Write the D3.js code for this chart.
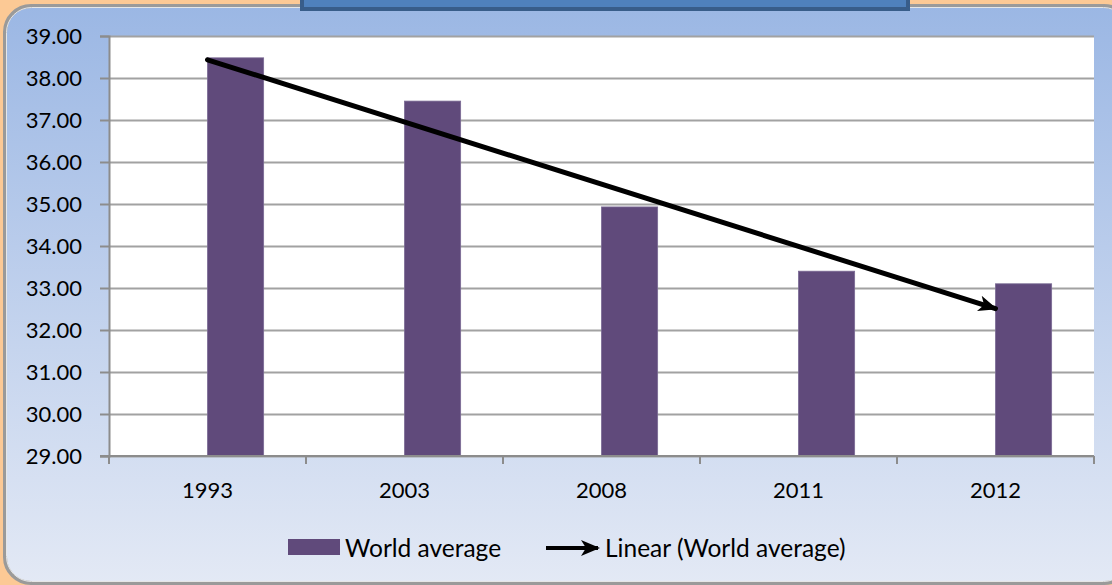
<!DOCTYPE html>
<html>
<head>
<meta charset="utf-8">
<script src="https://cdn.jsdelivr.net/npm/d3@7"></script>
<style>
  html, body { margin: 0; padding: 0; background: #fcc995; }
  svg { display: block; }
  text { font-family: Lato, "Open Sans", sans-serif; fill: #000; }
</style>
</head>
<body>
<div id="chart"></div>
<script>
// chart values
var years = ["1993", "2003", "2008", "2011", "2012"];
var worldAverage = [38.48, 37.45, 34.93, 33.40, 33.10];
var yTicks = [29, 30, 31, 32, 33, 34, 35, 36, 37, 38, 39];
var legendLabels = ["World average", "Linear (World average)"];

var width = 1112, height = 585;
var plot = { left: 109, right: 1094, top: 36, bottom: 456 };

var svg = d3.select("#chart").append("svg")
  .attr("width", width)
  .attr("height", height);

var defs = svg.append("defs");
var grad = defs.append("linearGradient")
  .attr("id", "bg").attr("x1", 0).attr("y1", 0).attr("x2", 0).attr("y2", 1);
grad.append("stop").attr("offset", "0%").attr("stop-color", "#9bb7e4");
grad.append("stop").attr("offset", "100%").attr("stop-color", "#e3e9f5");

// arrow head for the trend line
defs.append("marker")
  .attr("id", "arrow")
  .attr("markerUnits", "userSpaceOnUse")
  .attr("viewBox", "0 -9 19 18")
  .attr("refX", 17).attr("refY", 0)
  .attr("markerWidth", 19).attr("markerHeight", 18)
  .attr("orient", "auto")
  .append("path")
  .attr("d", "M0,-8L19,0L0,8L5,0Z")
  .attr("fill", "#000");

// rounded chart frame (double line)
svg.append("rect")
  .attr("x", 5).attr("y", 6)
  .attr("width", 1125).attr("height", 577)
  .attr("rx", 26).attr("ry", 26)
  .attr("fill", "url(#bg)")
  .attr("stroke", "#9a9a9a")
  .attr("stroke-width", 4);
svg.append("rect")
  .attr("x", 6.5).attr("y", 7.5)
  .attr("width", 1122).attr("height", 574)
  .attr("rx", 25).attr("ry", 25)
  .attr("fill", "none")
  .attr("stroke", "#e6e6e6")
  .attr("stroke-width", 1);

// title box at the top
svg.append("rect")
  .attr("x", 302).attr("y", -10)
  .attr("width", 606).attr("height", 19)
  .attr("fill", "#4f81bd")
  .attr("stroke", "#385d8a")
  .attr("stroke-width", 4);

// scales
var x = d3.scaleBand()
  .domain(years)
  .range([plot.left, plot.right]);

var y = d3.scaleLinear()
  .domain([29, 39])
  .range([plot.bottom, plot.top]);

// plot area
svg.append("rect")
  .attr("x", plot.left).attr("y", plot.top)
  .attr("width", plot.right - plot.left)
  .attr("height", plot.bottom - plot.top)
  .attr("fill", "#fff");

// gridlines
svg.append("g")
  .attr("transform", "translate(" + plot.left + ",0)")
  .call(d3.axisLeft(y).tickValues(yTicks).tickSize(-(plot.right - plot.left)).tickFormat(""))
  .call(function (g) {
    g.select(".domain").remove();
    g.selectAll("line").attr("stroke", "#a2a2a2").attr("stroke-width", 2);
  });

// bars (series sits right of category centre, like the Excel original)
var barW = x.bandwidth() * 0.285;
svg.append("g")
  .selectAll("rect")
  .data(worldAverage)
  .enter()
  .append("rect")
  .attr("x", function (d, i) { return x(years[i]) + x.bandwidth() / 2; })
  .attr("y", function (d) { return y(d); })
  .attr("width", barW)
  .attr("height", function (d) { return y(29) - y(d); })
  .attr("fill", "#604a7b")
  .attr("stroke", "#7a6a94")
  .attr("stroke-width", 0.8);

// y axis
svg.append("g")
  .attr("transform", "translate(" + plot.left + ",0)")
  .call(d3.axisLeft(y).tickValues(yTicks).tickSize(9).tickPadding(18).tickFormat(d3.format(".2f")))
  .call(function (g) {
    g.select(".domain").attr("stroke", "#8c8c8c").attr("stroke-width", 2);
    g.selectAll("line").attr("stroke", "#8c8c8c").attr("stroke-width", 2);
    g.selectAll("text").attr("font-size", 22).attr("dy", "0.36em")
      .style("font-family", "Lato, 'Open Sans', sans-serif");
  });

// x axis: labels at category centres, ticks on category boundaries
var xAxis = svg.append("g")
  .attr("transform", "translate(0," + plot.bottom + ")")
  .call(d3.axisBottom(x).tickSize(0).tickPadding(26).tickSizeOuter(0))
  .call(function (g) {
    g.select(".domain").attr("stroke", "#8c8c8c").attr("stroke-width", 2)
      .attr("d", "M" + (plot.left - 9) + ",0H" + plot.right);
    g.selectAll("text").attr("font-size", 22).attr("dy", "0.71em")
      .style("font-family", "Lato, 'Open Sans', sans-serif");
  });
xAxis.selectAll(".bound")
  .data(years.concat(["end"]))
  .enter()
  .append("line")
  .attr("class", "bound")
  .attr("x1", function (d, i) { return plot.left + i * x.step(); })
  .attr("x2", function (d, i) { return plot.left + i * x.step(); })
  .attr("y1", 0).attr("y2", 8)
  .attr("stroke", "#8c8c8c").attr("stroke-width", 2);

// linear trendline (least squares over category index)
var n = worldAverage.length;
var idx = d3.range(1, n + 1);
var mx = d3.mean(idx), my = d3.mean(worldAverage);
var slope = d3.sum(idx, function (k, i) { return (k - mx) * (worldAverage[i] - my); }) /
            d3.sum(idx, function (k) { return (k - mx) * (k - mx); });
var trend = [1, n].map(function (k) { return { year: years[k - 1], v: my + slope * (k - mx) }; });

var line = d3.line()
  .x(function (d) { return x(d.year) + x.bandwidth() / 2; })
  .y(function (d) { return y(d.v); });

svg.append("path")
  .attr("d", line(trend))
  .attr("fill", "none")
  .attr("stroke", "#000")
  .attr("stroke-width", 5)
  .attr("stroke-linecap", "round")
  .attr("marker-end", "url(#arrow)");

// legend
var legend = svg.append("g");
legend.append("rect")
  .attr("x", 288).attr("y", 539)
  .attr("width", 52).attr("height", 16)
  .attr("fill", "#604a7b");
legend.append("text")
  .attr("x", 345).attr("y", 557)
  .attr("font-size", 24.5)
  .text(legendLabels[0]);
legend.append("line")
  .attr("x1", 546).attr("x2", 598)
  .attr("y1", 548).attr("y2", 548)
  .attr("stroke", "#000").attr("stroke-width", 4)
  .attr("marker-end", "url(#arrow)");
legend.append("text")
  .attr("x", 605).attr("y", 557)
  .attr("font-size", 24.5)
  .text(legendLabels[1]);
</script>
</body>
</html>
